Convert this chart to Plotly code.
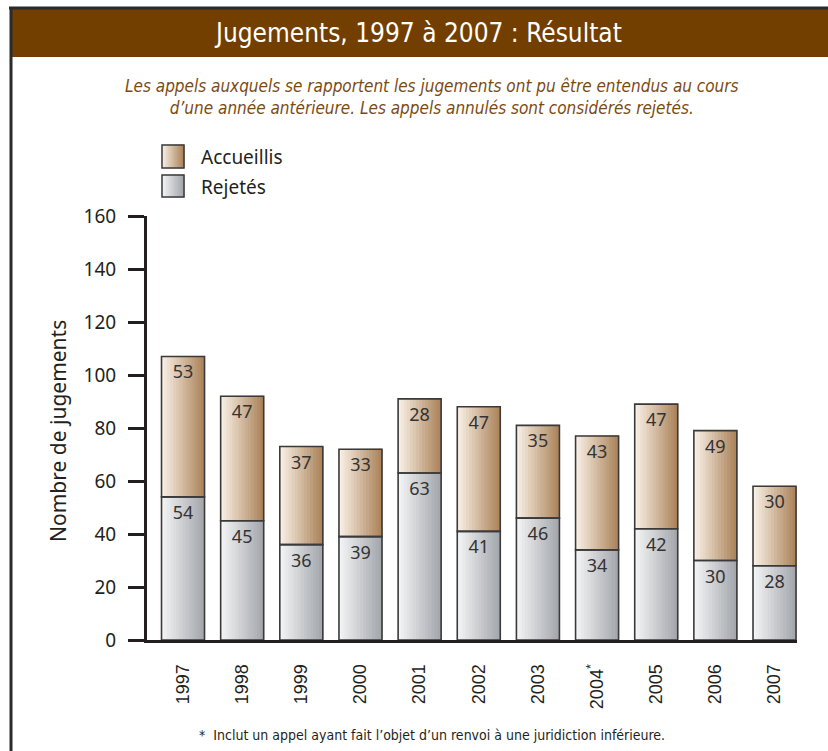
import plotly.graph_objects as go

# données
annees = ['1997', '1998', '1999', '2000', '2001', '2002', '2003', '2004', '2005', '2006', '2007']
etiquettes = ['1997', '1998', '1999', '2000', '2001', '2002', '2003', '2004<sup>*</sup>',
              '2005', '2006', '2007']
rejetes = [54, 45, 36, 39, 63, 41, 46, 34, 42, 30, 28]
accueillis = [53, 47, 37, 33, 28, 47, 35, 43, 47, 49, 30]

W, H = 828, 751
L, R, T, B = 147, 31, 216, 111
PW, PH = W - L - R, H - T - B


def px_x(x):
    return (x - L) / PW


def px_y(y):
    return (H - B - y) / PH


def mix(c0, c1, t):
    a = [int(c0[i:i + 2], 16) for i in (1, 3, 5)]
    b = [int(c1[i:i + 2], 16) for i in (1, 3, 5)]
    return 'rgb(%d,%d,%d)' % tuple(round(a[j] + (b[j] - a[j]) * t) for j in range(3))


TAN = ('#fbf3ea', '#ab8258')
GRIS = ('#f6f7f8', '#a2a5aa')
BORD = '#3a3a3a'
N = 14
BW = 0.727

fig = go.Figure()

# barres en dégradé (bandes verticales)
for vals, base, cols in ((rejetes, [0] * len(rejetes), GRIS), (accueillis, rejetes, TAN)):
    for k in range(N):
        c = mix(cols[0], cols[1], (k + 0.5) / N)
        fig.add_trace(go.Bar(
            x=annees, y=vals, base=base,
            width=BW / N, offset=-BW / 2 + k * BW / N,
            marker=dict(color=c, line=dict(color=c, width=1)),
            showlegend=False, hoverinfo='skip',
        ))

# contours + valeurs
for vals, base, nom in ((rejetes, [0] * len(rejetes), 'Rejetés'), (accueillis, rejetes, 'Accueillis')):
    fig.add_trace(go.Bar(
        x=annees, y=vals, base=base, name=nom,
        width=BW, offset=-BW / 2,
        marker=dict(color='rgba(0,0,0,0)', line=dict(color=BORD, width=1.6)),
        text=vals, textposition='inside', insidetextanchor='end', textangle=0,
        textfont=dict(size=18, color='#333333', family='Noto Sans, Arial, sans-serif'),
        showlegend=False,
        hovertemplate='%{x} : %{y}<extra>' + nom + '</extra>',
    ))

shapes = []
# cadre + bandeau du titre
shapes.append(dict(type='rect', xref='paper', yref='paper',
                   x0=px_x(10), x1=px_x(829), y0=px_y(57), y1=px_y(9),
                   fillcolor='#723f00', line_width=0, layer='below'))
shapes.append(dict(type='line', xref='paper', yref='paper',
                   x0=px_x(9), x1=px_x(829), y0=px_y(8), y1=px_y(8),
                   line=dict(color='#2b2b2b', width=3)))
shapes.append(dict(type='line', xref='paper', yref='paper',
                   x0=px_x(11), x1=px_x(11), y0=px_y(7), y1=px_y(752),
                   line=dict(color='#2b2b2b', width=3)))

# légende manuelle
for (y0, y1), cols in (((145, 168), TAN), ((175, 197), GRIS)):
    x0, x1 = 162, 184
    for k in range(N):
        c = mix(cols[0], cols[1], (k + 0.5) / N)
        shapes.append(dict(type='rect', xref='paper', yref='paper',
                           x0=px_x(x0 + (x1 - x0) * k / N), x1=px_x(x0 + (x1 - x0) * (k + 1) / N),
                           y0=px_y(y1), y1=px_y(y0),
                           fillcolor=c, line=dict(color=c, width=1)))
    shapes.append(dict(type='rect', xref='paper', yref='paper',
                       x0=px_x(x0), x1=px_x(x1), y0=px_y(y1), y1=px_y(y0),
                       line=dict(color=BORD, width=1.5)))

annotations = [
    dict(text='Jugements, 1997 à 2007 : Résultat', x=px_x(418), y=px_y(33),
         font=dict(size=26, color='white', family='DejaVu Sans Condensed, Liberation Sans Narrow, sans-serif')),
    dict(text='<i>Les appels auxquels se rapportent les jugements ont pu être entendus au cours<br>'
              'd’une année antérieure. Les appels annulés sont considérés rejetés.</i>',
         x=px_x(432), y=px_y(97),
         font=dict(size=17, color='#7b4a12', family='DejaVu Sans Condensed, Liberation Sans Narrow, sans-serif')),
    dict(text='Accueillis', x=px_x(199), y=px_y(157), xanchor='left',
         font=dict(size=19, color='#231f20', family='Noto Sans, sans-serif')),
    dict(text='Rejetés', x=px_x(199), y=px_y(187), xanchor='left',
         font=dict(size=19, color='#231f20', family='Noto Sans, sans-serif')),
    dict(text='Nombre de jugements', x=px_x(58), y=px_y(431), textangle=-90,
         font=dict(size=21, color='#231f20', family='Noto Sans, sans-serif')),
    dict(text='*  Inclut un appel ayant fait l’objet d’un renvoi à une juridiction inférieure.',
         x=px_x(432), y=px_y(735),
         font=dict(size=14, color='#231f20', family='Liberation Sans Narrow, DejaVu Sans Condensed, sans-serif')),
]
for a in annotations:
    a.update(xref='paper', yref='paper', showarrow=False)
    a.setdefault('xanchor', 'center')
    a.setdefault('yanchor', 'middle')

fig.update_layout(
    width=W, height=H,
    margin=dict(l=L, r=R, t=T, b=B),
    paper_bgcolor='white', plot_bgcolor='white',
    barmode='overlay',
    showlegend=False,
    shapes=shapes,
    annotations=annotations,
    xaxis=dict(
        type='category', range=[-0.609, 10.38],
        tickvals=annees, ticktext=etiquettes, tickangle=-90,
        tickfont=dict(size=18, color='#231f20', family='Liberation Sans, Arial, sans-serif'),
        ticks='', showline=True, linecolor='#231f20', linewidth=3,
        showgrid=False, ticklabelstandoff=14,
    ),
    yaxis=dict(
        range=[0, 160], tickvals=list(range(0, 161, 20)),
        tickfont=dict(size=19, color='#231f20', family='Noto Sans, sans-serif'),
        ticks='outside', ticklen=16, tickwidth=2.5, tickcolor='#231f20',
        showline=True, linecolor='#231f20', linewidth=3,
        showgrid=False, zeroline=False, ticklabelstandoff=8,
    ),
)

fig.write_html('out.html', config={'displayModeBar': False},
               post_script="document.body.style.margin='0';")
